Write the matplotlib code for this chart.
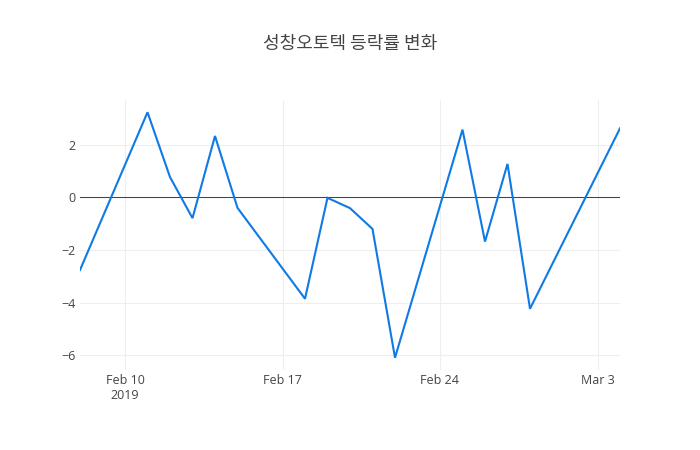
import datetime as dt
import matplotlib
matplotlib.use("Agg")
import matplotlib.pyplot as plt

# trading days and daily change (%)
dates = ["2019-02-08", "2019-02-11", "2019-02-12", "2019-02-13", "2019-02-14",
         "2019-02-15", "2019-02-18", "2019-02-19", "2019-02-20", "2019-02-21",
         "2019-02-22", "2019-02-25", "2019-02-26", "2019-02-27", "2019-02-28",
         "2019-03-04"]
changes = [-2.76, 3.23, 0.77, -0.79, 2.33, -0.40, -3.85, -0.02, -0.41, -1.20,
           -6.09, 2.57, -1.68, 1.27, -4.23, 2.62]

tick_dates = ["2019-02-10", "2019-02-17", "2019-02-24", "2019-03-03"]
tick_labels = ["Feb 10\n2019", "Feb 17", "Feb 24", "Mar 3"]
y_ticks = [-6, -4, -2, 0, 2]

title = "성창오토텍 등락률 변화"

plt.rcParams['font.family'] = ['Open Sans', 'Noto Sans CJK KR', 'DejaVu Sans']

x = [dt.datetime.strptime(d, "%Y-%m-%d") for d in dates]
xt = [dt.datetime.strptime(d, "%Y-%m-%d") for d in tick_dates]

fig = plt.figure(figsize=(7, 4.5), dpi=100)
ax = fig.add_axes([80 / 700, 80 / 450, 540 / 700, 270 / 450])

# 1px = 0.72pt at 100 dpi
ax.plot(x, changes, color="#0f7ae5", linewidth=1.5, solid_joinstyle="miter", zorder=3)
ax.axhline(0, color="#444444", linewidth=0.75, zorder=2)

pad = (max(changes) - min(changes)) * 0.05
ax.set_ylim(min(changes) - pad, max(changes) + pad)
ax.set_xlim(x[0], x[-1])

ax.set_xticks(xt)
ax.set_xticklabels(tick_labels)
ax.set_yticks(y_ticks)
ax.set_yticklabels([str(v).replace("-", "\u2212") for v in y_ticks])

ax.grid(True, color="#eeeeee", linewidth=0.75, zorder=0)
for s in ax.spines.values():
    s.set_visible(False)
ax.tick_params(length=0, labelsize=9, colors="#444444")
ax.tick_params(axis="y", pad=3)
ax.tick_params(axis="x", pad=3)

fig.text(0.5, 1 - 44 / 450, title, ha="center", va="center", fontsize=13,
         color="#444444", family=['Noto Sans CJK KR', 'DejaVu Sans'])

fig.savefig("out.png", dpi=100)
